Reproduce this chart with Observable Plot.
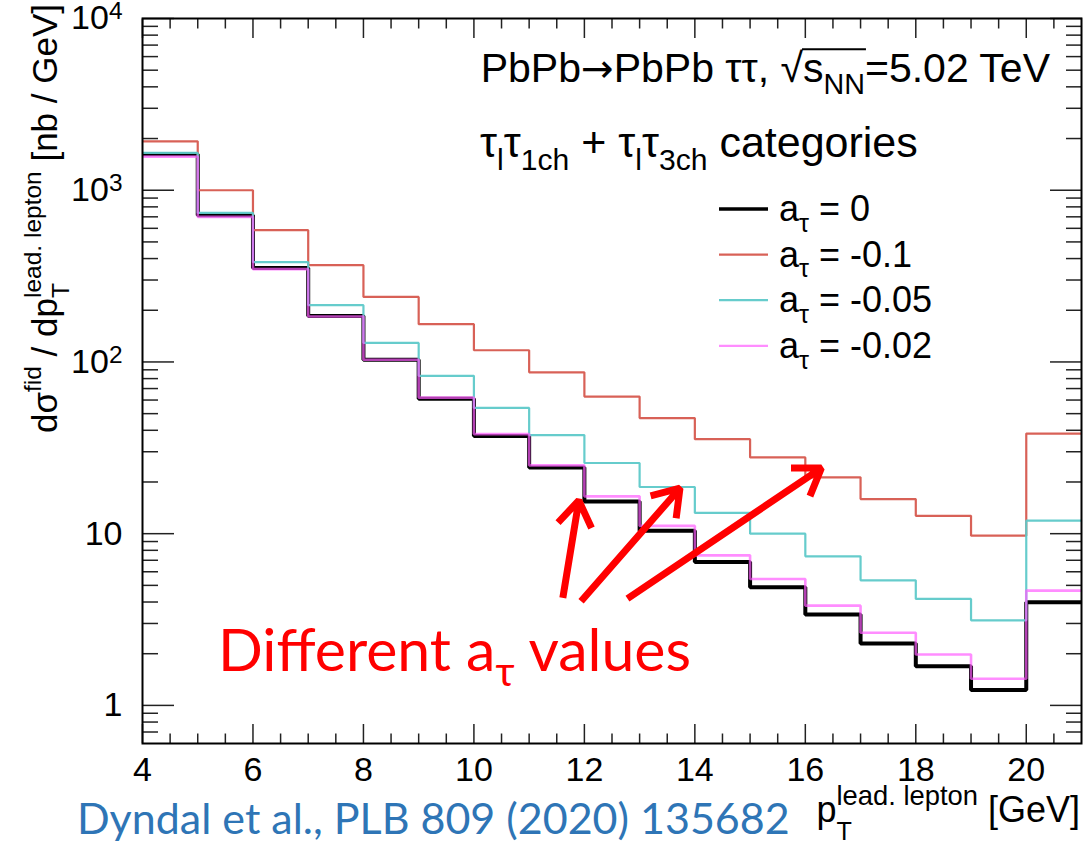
<!DOCTYPE html>
<html>
<head>
<meta charset="utf-8">
<script src="https://cdn.jsdelivr.net/npm/d3@7"></script>
<script src="https://cdn.jsdelivr.net/npm/@observablehq/plot@0.6"></script>
<style>
  html, body { margin: 0; padding: 0; background: #fff; }
  #chart { width: 1084px; height: 846px; }
  svg text { white-space: pre; }
</style>
</head>
<body>
<div id="chart"></div>
<script>
// Bin edges of the leading-lepton pT histogram [GeV]
const binEdges = [4, 5, 6, 7, 8, 9, 10, 11, 12, 13, 14, 15, 16, 17, 18, 19, 20, 21];

// dσ/dpT per bin [nb/GeV] for each anomalous magnetic moment hypothesis
const aTau0     = [1620, 716, 352, 185, 103, 61, 37, 24.3, 15.4, 10.4, 6.84, 4.87, 3.38, 2.29, 1.69, 1.23, 3.99];
const aTauM01   = [1927, 1000, 585, 366, 239, 166, 117, 87, 62.9, 47.1, 35.5, 27.8, 21.3, 15.9, 12.7, 9.74, 38.3];
const aTauM005  = [1650, 738, 381, 214, 129, 83, 54, 37.5, 25.8, 18.7, 13.2, 10.0, 7.38, 5.35, 4.17, 3.13, 11.9];
const aTauM002  = [1570, 700, 347, 184, 103, 62, 38, 25, 16.5, 11.1, 7.48, 5.45, 3.81, 2.65, 1.98, 1.43, 4.66];

const legendLabels = ["0", "-0.1", "-0.05", "-0.02"];

// Axis ticks
const xMajor = [4, 6, 8, 10, 12, 14, 16, 18, 20];
const xMinor = d3.range(4.5, 21, 0.5).filter(v => !xMajor.includes(v));
const yMajor = [1, 10, 100, 1000, 10000];
const yMinor = [0.7, 0.8, 0.9, 2, 3, 4, 5, 6, 7, 8, 9, 20, 30, 40, 50, 60, 70, 80, 90,
                200, 300, 400, 500, 600, 700, 800, 900, 2000, 3000, 4000, 5000, 6000, 7000, 8000, 9000];

// Annotation arrows (data coordinates: pT, dσ/dpT)
const arrowTail = [[11.61, 4.23], [11.94, 4.04], [12.78, 4.19]];
const arrowHead = [[11.90, 15.6], [13.73, 18.4], [16.29, 24.1]];

const series = [
  {label: legendLabels[0], values: aTau0,    color: "#000000", width: 4,   opacity: 1},
  {label: legendLabels[1], values: aTauM01,  color: "#d6584e", width: 2.2, opacity: 0.95},
  {label: legendLabels[2], values: aTauM005, color: "#5ec9c9", width: 2.2, opacity: 0.95},
  {label: legendLabels[3], values: aTauM002, color: "#ff5cff", width: 2.6, opacity: 0.7}
];

function stepPoints(values) {
  const pts = values.map((v, i) => ({x: binEdges[i], y: v}));
  pts.push({x: binEdges[values.length], y: values[values.length - 1]});
  return pts;
}

const arrows = arrowTail.map((t, i) => ({x1: t[0], y1: t[1], x2: arrowHead[i][0], y2: arrowHead[i][1]}));

const tickStyle = {stroke: "#222", strokeWidth: 1.5, label: null, tickFormat: () => ""};

const chart = Plot.plot({
  width: 1084,
  height: 846,
  marginLeft: 142,
  marginRight: 3,
  marginTop: 18,
  marginBottom: 103,
  style: {fontFamily: '"Liberation Sans", Arial, sans-serif', background: "#fff", color: "#000", overflow: "visible"},
  x: {domain: [4, 21]},
  y: {type: "log", domain: [0.6, 1e4]},
  marks: [
    // inward ticks on all four sides
    Plot.axisX({...tickStyle, anchor: "bottom", ticks: xMajor, tickSize: -19}),
    Plot.axisX({...tickStyle, anchor: "bottom", ticks: xMinor, tickSize: -9.5}),
    Plot.axisX({...tickStyle, anchor: "top", ticks: xMajor, tickSize: -19}),
    Plot.axisX({...tickStyle, anchor: "top", ticks: xMinor, tickSize: -9.5}),
    Plot.axisY({...tickStyle, anchor: "left", ticks: yMajor, tickSize: -32}),
    Plot.axisY({...tickStyle, anchor: "left", ticks: yMinor, tickSize: -16}),
    Plot.axisY({...tickStyle, anchor: "right", ticks: yMajor, tickSize: -32}),
    Plot.axisY({...tickStyle, anchor: "right", ticks: yMinor, tickSize: -16}),
    // tick labels
    Plot.axisX({anchor: "bottom", ticks: xMajor, tickSize: 0, tickPadding: 13, fontSize: 34, label: null, tickFormat: d => String(d)}),
    Plot.axisY({anchor: "left", ticks: yMajor, tickSize: 0, tickPadding: 20, fontSize: 34, label: null,
      tickFormat: d => d === 1 ? "1" : d === 10 ? "10" : "10^" + Math.round(Math.log10(d))}),
    // histograms
    ...series.map(s => Plot.line(stepPoints(s.values), {
      x: "x", y: "y", curve: "step-after", stroke: s.color, strokeWidth: s.width,
      strokeOpacity: s.opacity, strokeLinejoin: "miter", strokeLinecap: "butt"
    })),
    Plot.frame({stroke: "#000", strokeWidth: 2}),
    // red annotation arrows
    Plot.arrow(arrows, {x1: "x1", y1: "y1", x2: "x2", y2: "y2", stroke: "#ff0000", strokeWidth: 7,
      headLength: 6.5, headAngle: 68, strokeLinejoin: "miter", strokeLinecap: "butt"})
  ]
});

document.getElementById("chart").appendChild(chart);
const svg = d3.select(chart);

// exponents on the decade labels
svg.selectAll('g[aria-label="y-axis tick label"] text').each(function() {
  const s = this.textContent;
  if (!s.includes("^")) return;
  const [b, e] = s.split("^");
  const t = d3.select(this);
  t.text(b);
  t.append("tspan").attr("dy", "-0.42em").attr("font-size", "0.72em").text(e);
});

// text with sub/superscripts laid out piece by piece
function rich(segs, o) {
  const g = svg.append("g")
    .attr("transform", `translate(${o.x},${o.y}) rotate(${o.rotate || 0})`)
    .attr("font-family", o.family || '"Liberation Sans", Arial, sans-serif')
    .attr("text-anchor", "start")
    .attr("fill", o.fill || "#000");
  const inner = g.append("g");
  let cx = 0, prevStart = 0;
  const over = [];
  for (const s of segs) {
    const fs = (s.scale || 1) * o.size;
    const x0 = s.stack ? prevStart : cx;
    const t = inner.append("text").attr("x", x0).attr("y", (s.shift || 0) * o.size)
      .attr("font-size", fs).text(s.t);
    if (s.family) t.attr("font-family", s.family);
    const w = t.node().getComputedTextLength();
    if (s.over) over.push(x0, x0 + w);
    cx = s.stack ? Math.max(cx, x0 + w) : x0 + w;
    prevStart = x0;
  }
  if (over.length) {
    inner.append("line")
      .attr("x1", d3.min(over) - 1).attr("x2", d3.max(over) + 1)
      .attr("y1", -0.8 * o.size).attr("y2", -0.8 * o.size)
      .attr("stroke", o.fill || "#000").attr("stroke-width", 2);
  }
  const shift = o.anchor === "end" ? -cx : o.anchor === "middle" ? -cx / 2 : 0;
  inner.attr("transform", `translate(${shift},0)`);
  return g;
}

const sub = {scale: 0.7, shift: 0.3};
const sup = {scale: 0.7, shift: -0.45};

// process line
rich([
  {t: "PbPb"},
  {t: "→", family: '"DejaVu Sans", sans-serif', scale: 0.95},
  {t: "PbPb ττ, √"},
  {t: "s", over: true},
  {t: "NN", ...sub, over: true},
  {t: "=5.02 TeV"}
], {x: 1050, y: 82, size: 41, anchor: "end"});

// event categories
rich([
  {t: "τ"}, {t: "l", ...sub}, {t: "τ"}, {t: "1ch", ...sub},
  {t: " + τ"}, {t: "l", ...sub}, {t: "τ"}, {t: "3ch", ...sub},
  {t: " categories"}
], {x: 480, y: 157, size: 43});

// legend
series.forEach((s, i) => {
  const yc = 209 + i * 45.6;
  svg.append("line").attr("x1", 719).attr("x2", 768).attr("y1", yc).attr("y2", yc)
    .attr("stroke", s.color).attr("stroke-width", s.color === "#000000" ? 3.5 : 2.2)
    .attr("stroke-opacity", s.opacity);
  rich([{t: "a"}, {t: "τ", ...sub}, {t: " = " + s.label}], {x: 779, y: yc + 12, size: 36});
});

// y-axis title
rich([
  {t: "dσ"}, {t: "fid", ...sup}, {t: " / dp"}, {t: "T", scale: 0.7, shift: 0.35},
  {t: "lead. lepton", ...sup, stack: true}, {t: " [nb / GeV]"}
], {x: 57, y: 4, size: 35, rotate: -90, anchor: "end"});

// x-axis title
rich([
  {t: "p"}, {t: "T", scale: 0.7, shift: 0.5}, {t: "lead. lepton", scale: 0.76, shift: -0.46, stack: true},
  {t: " [GeV]"}
], {x: 1080, y: 822, size: 36, anchor: "end"});

// annotation
rich([
  {t: "Different a"}, {t: "τ", scale: 0.7, shift: 0.25}, {t: " values"}
], {x: 218, y: 671, size: 59, family: "Lato, sans-serif", fill: "#ff0000"});

// reference
rich([{t: "Dyndal et al., PLB 809 (2020) 135682"}],
  {x: 77, y: 834, size: 43, family: "Lato, sans-serif", fill: "#2e75b6"});
</script>
</body>
</html>
